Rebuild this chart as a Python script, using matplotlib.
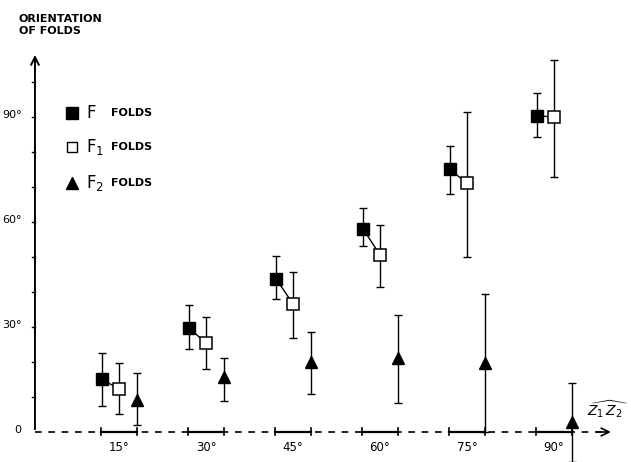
import numpy as np
import matplotlib
matplotlib.use("Agg")
import matplotlib.pyplot as plt

# angle between Z1 and Z2 (groups along x)
angles = [15, 30, 45, 60, 75, 90]
x_labels = ["15°", "30°", "45°", "60°", "75°", "90°"]

# F folds : mean, lower, upper
f_mean = [15, 29.7, 43.7, 58, 75, 90.3]
f_low = [7.4, 23.7, 38, 53, 68, 84.3]
f_high = [22.6, 36.3, 50.3, 64, 81.7, 96.9]

# F1 folds
f1_mean = [12.3, 25.4, 36.6, 50.6, 71, 90]
f1_low = [5.1, 18, 26.9, 41.4, 50, 72.9]
f1_high = [19.7, 32.9, 45.7, 59, 91.5, 106.3]

# F2 folds
f2_mean = [9.1, 15.7, 20, 21, 19.7, 2.9]
f2_low = [2, 8.9, 10.9, 8.3, 0, -8.6]
f2_high = [16.9, 21, 28.6, 33.4, 39.4, 14]

y_ticks = [0, 30, 60, 90]
y_labels = ["0", "30°", "60°", "90°"]

fig = plt.figure(figsize=(6.31, 4.62), dpi=100)
ax = fig.add_axes([0, 0, 1, 1])
ax.set_xlim(-5.53, 103.3)
ax.set_ylim(-8.57, 123.4)
ax.axis("off")

x = np.array(angles, dtype=float)
xf = x - 2.9
xf1 = x
xf2 = x + 3.1


def errs(mean, low, high):
    mean = np.array(mean)
    return [mean - np.array(low), np.array(high) - mean]


ekw = dict(ecolor="black", elinewidth=1.0, capsize=3, capthick=1.0, ls="none")
ax.errorbar(xf, f_mean, yerr=errs(f_mean, f_low, f_high), fmt="none", **ekw, zorder=2)
ax.errorbar(xf1, f1_mean, yerr=errs(f1_mean, f1_low, f1_high), fmt="none", **ekw, zorder=2)
ax.errorbar(xf2, f2_mean, yerr=errs(f2_mean, f2_low, f2_high), fmt="none", **ekw, zorder=2)

# link F and F1 of each group
for i in range(len(angles)):
    ax.plot([xf[i], xf1[i]], [f_mean[i], f1_mean[i]], color="black", lw=1.0, zorder=2)

ax.plot(xf, f_mean, "s", color="black", ms=9, ls="none", zorder=3)
ax.plot(xf1, f1_mean, "s", mfc="white", mec="black", mew=1.1, ms=8.5, ls="none", zorder=3)
ax.plot(xf2, f2_mean, "^", color="black", ms=9, ls="none", zorder=3)

# y axis with arrow
ax.annotate("", xy=(0.5, 108.5), xytext=(0.5, 0),
            arrowprops=dict(arrowstyle="->", lw=1.4, color="black", mutation_scale=14))
for t in range(10, 101, 10):
    ax.plot([0.0, 0.5], [t, t], color="black", lw=1.0)
for t, lab in zip(y_ticks, y_labels):
    ax.text(-1.8, t + 0.5, lab, ha="right", va="center", fontsize=8)

# x axis: dashed line, solid segment per group
ax.plot([0.5, 99], [0, 0], color="black", lw=1.2, ls=(0, (4, 4)))
ax.annotate("", xy=(100.3, 0), xytext=(97, 0),
            arrowprops=dict(arrowstyle="->", lw=1.2, color="black", mutation_scale=14))
for xi, lab in zip(x, x_labels):
    ax.plot([xi - 3.1, xi + 3.1], [0, 0], color="black", lw=1.6)
    ax.plot([xi - 3.1, xi - 3.1], [-1, 1], color="black", lw=1.2)
    ax.plot([xi + 3.1, xi + 3.1], [-1, 1], color="black", lw=1.2)
    ax.text(xi, -4.4, lab, ha="center", va="center", fontsize=8.5)

ax.text(99.3, 6.5, r"$\widehat{Z_1\,Z_2}$", ha="center", va="center", fontsize=10)

# title of the y axis
ax.text(-2.3, 119.5, "ORIENTATION\nOF FOLDS", ha="left", va="top",
        fontsize=8, fontweight="bold", linespacing=1.25)

# legend
ax.plot([6.9], [91.1], "s", color="black", ms=8)
ax.plot([6.9], [81.4], "s", mfc="white", mec="black", mew=1.0, ms=7.5)
ax.plot([6.9], [71.1], "^", color="black", ms=8)
ax.text(9.3, 91.1, "F", ha="left", va="center", fontsize=12)
ax.text(9.3, 81.4, r"F$_1$", ha="left", va="center", fontsize=12)
ax.text(9.3, 71.1, r"F$_2$", ha="left", va="center", fontsize=12)
for yy in [91.1, 81.4, 71.1]:
    ax.text(13.6, yy, "FOLDS", ha="left", va="center", fontsize=8, fontweight="bold")

fig.savefig("out.png", dpi=100)
